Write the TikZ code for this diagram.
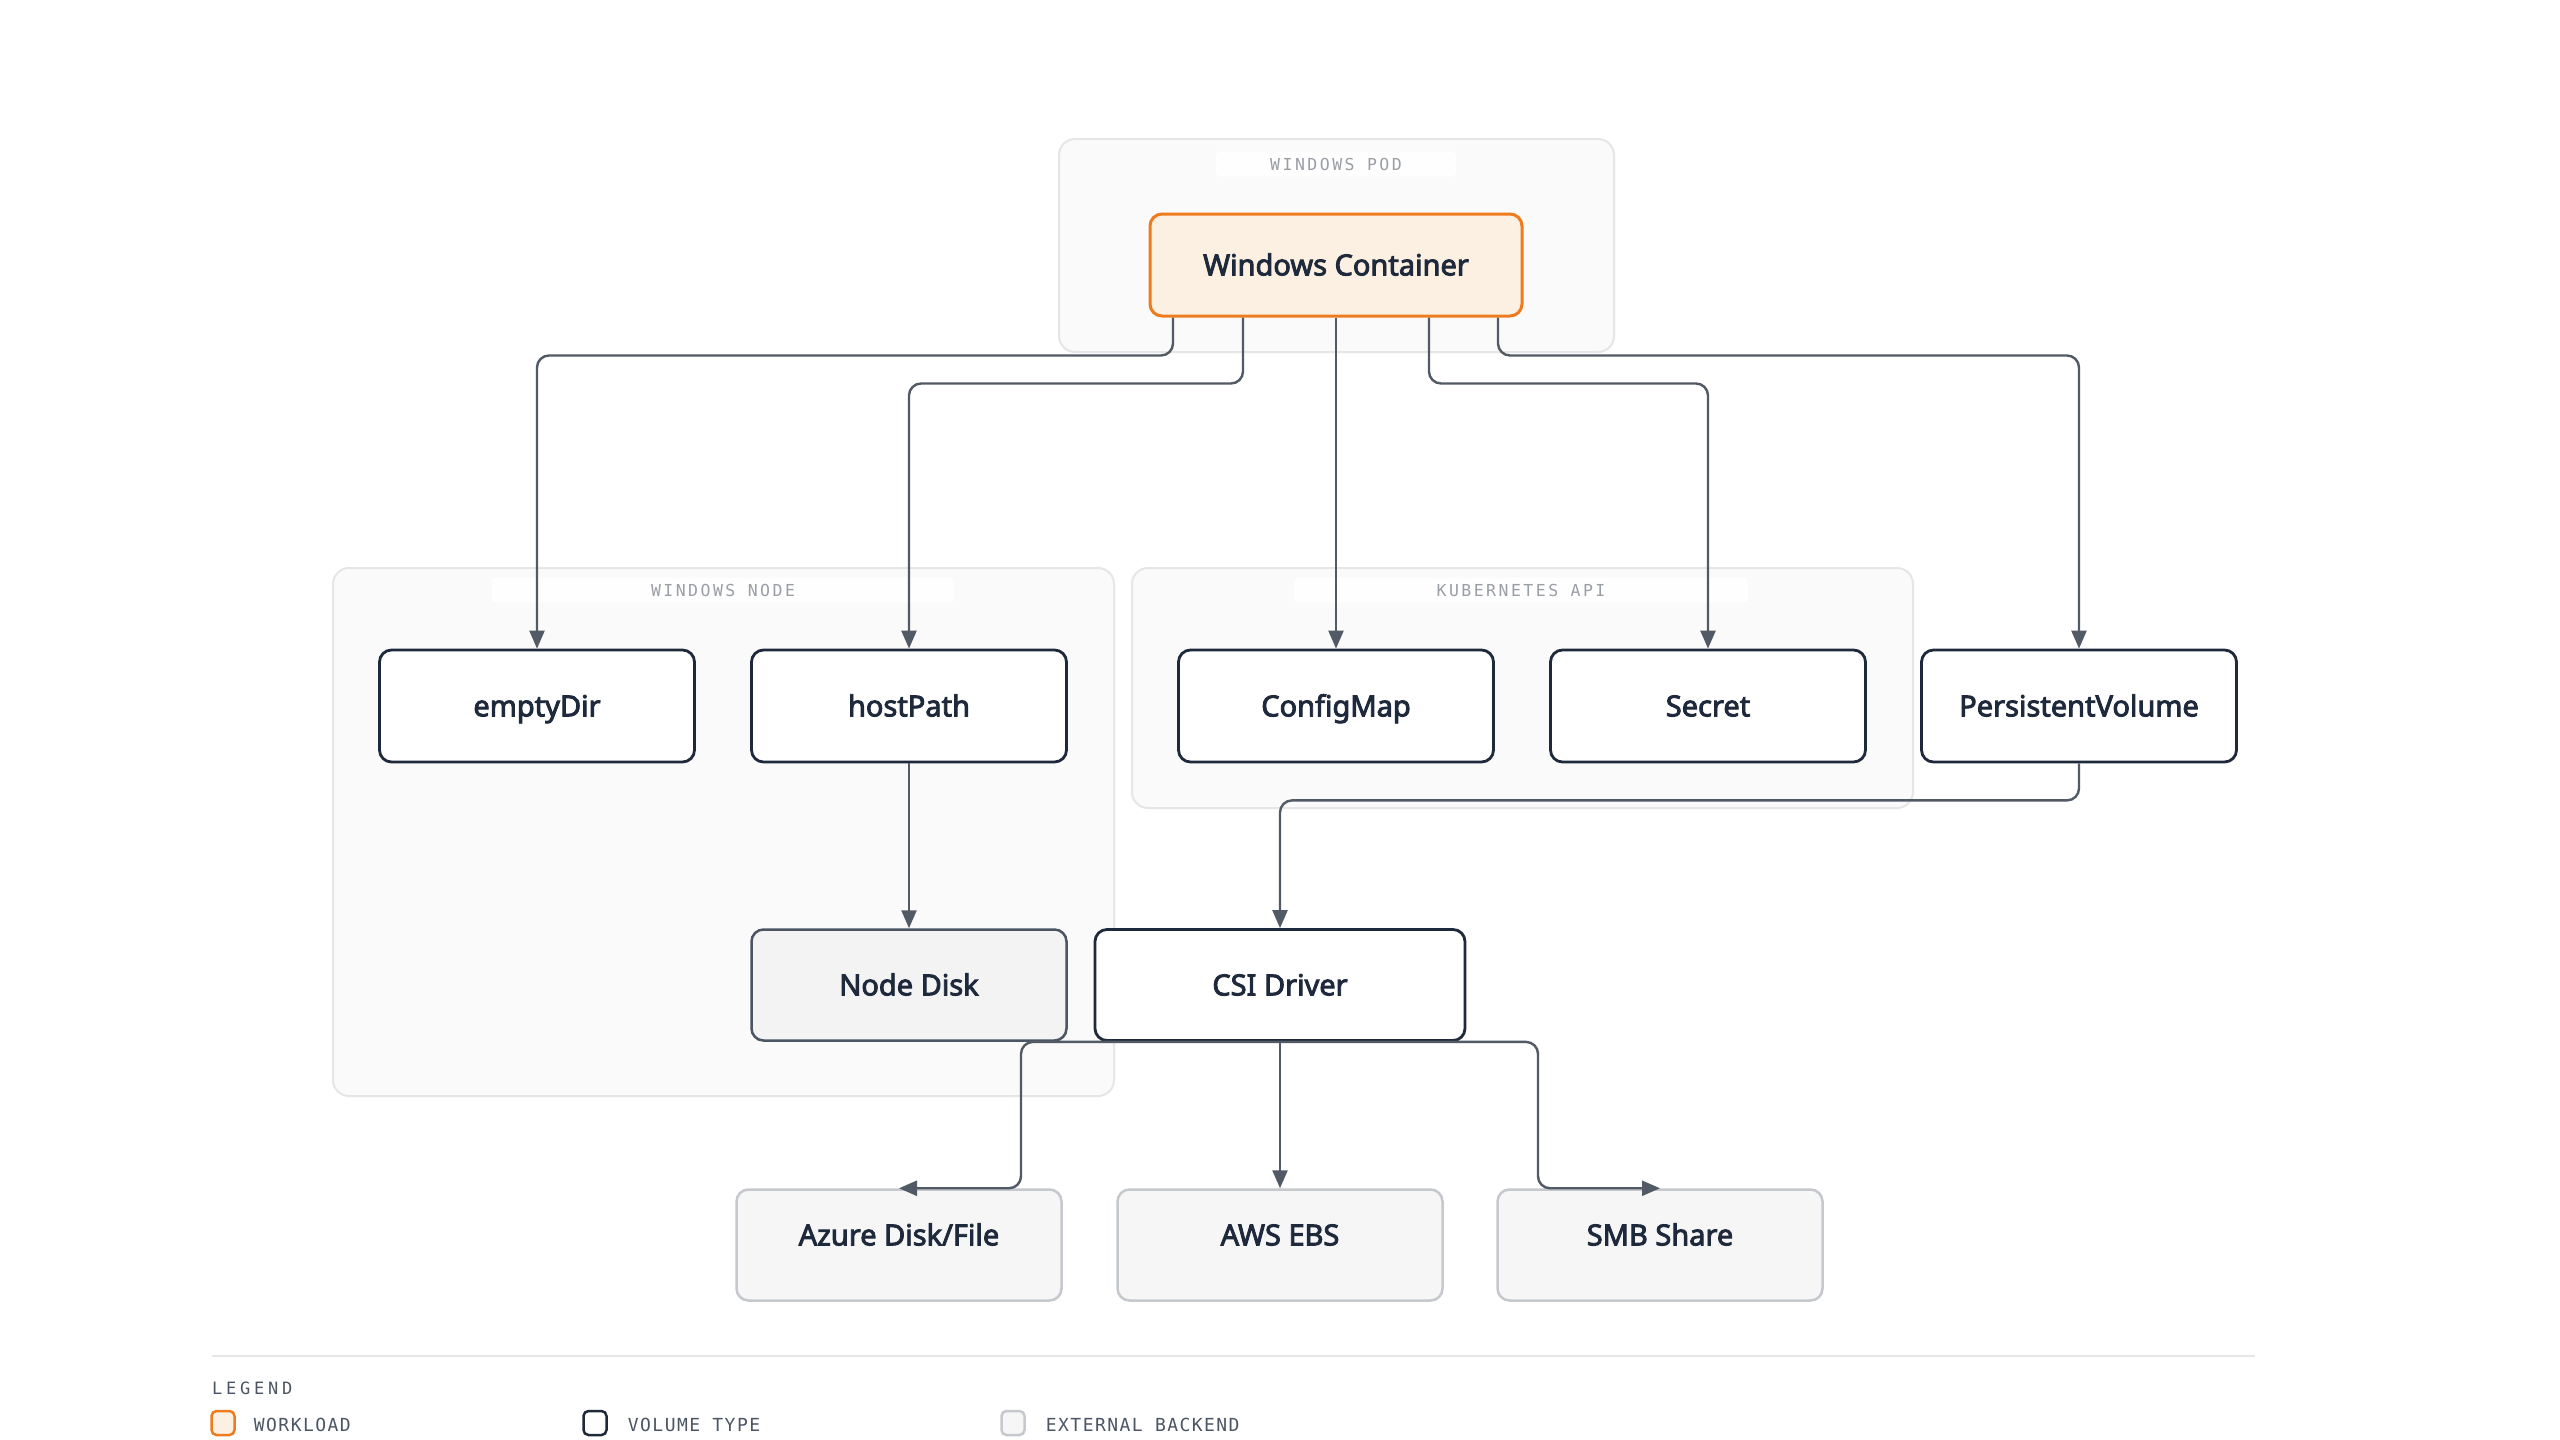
\documentclass[tikz,border=0pt]{standalone}
\usepackage{fontspec}
\setmainfont{Noto Sans}[BoldFont={Noto Sans}, BoldFeatures={FakeBold=3}]
\newfontfamily\grouplabelfont[LetterSpace=15]{DejaVu Sans Mono}
\newfontfamily\keyfont[LetterSpace=8]{DejaVu Sans Mono}
\newfontfamily\keytitlefont[LetterSpace=22]{DejaVu Sans Mono}
\usetikzlibrary{arrows.meta,positioning}
\definecolor{wlorange}{HTML}{EF7B1F}
\definecolor{wlcream}{HTML}{FBF0E1}
\definecolor{navy}{HTML}{1E293B}
\definecolor{linkgray}{HTML}{525A65}
\definecolor{diskgray}{HTML}{4B5563}
\definecolor{diskfill}{HTML}{F3F3F4}
\definecolor{extborder}{HTML}{C5C8CC}
\definecolor{extfill}{HTML}{F6F6F7}
\definecolor{groupfill}{HTML}{FAFAFA}
\definecolor{groupline}{HTML}{E6E6E6}
\definecolor{tagtext}{HTML}{9A9EA5}
\definecolor{keytext}{HTML}{4B5563}
\begin{document}
\begin{tikzpicture}[x=1pt,y=-1pt,
    box/.style={rounded corners=12pt, inner sep=0pt, text=navy,
      text height=20.7pt, text depth=0pt,
      font=\fontsize{29}{34}\selectfont\bfseries},
    workload/.style={box, draw=wlorange, fill=wlcream, line width=3pt,
      minimum width=372pt, minimum height=102pt},
    voltype/.style={box, draw=navy, fill=white, line width=2.8pt,
      minimum width=315pt, minimum height=112pt},
    hostdisk/.style={box, draw=diskgray, fill=diskfill, line width=2.5pt,
      minimum width=315pt, minimum height=111pt},
    backend/.style={box, draw=extborder, fill=extfill, line width=2.5pt,
      text depth=20pt, minimum width=325pt, minimum height=111pt},
    groupbox/.style={draw=groupline, fill=groupfill, line width=2pt, rounded corners=16pt},
    grouptag/.style={fill=white, fill opacity=0.8, text opacity=1, text=tagtext,
      rounded corners=4pt, inner sep=0pt, minimum height=25pt,
      font=\grouplabelfont\fontsize{16.5}{18}\selectfont},
    link/.style={draw=linkgray, line width=2.4pt, rounded corners=12pt,
      -{Triangle[length=18pt,width=15pt]}},
    swatch/.style={rounded corners=5pt, line width=2.5pt, inner sep=0pt,
      minimum width=23pt, minimum height=24pt},
    keylabel/.style={text=keytext, inner sep=0pt, yshift=-2pt,
      font=\keyfont\fontsize{18}{20}\selectfont}]
  \useasboundingbox (0,0) rectangle (2560,1440);
  \fill[white] (0,0) rectangle (2560,1440);

  % groups
  \draw[groupbox] (1059,139) rectangle (1614,352);
  \draw[groupbox] (333,568) rectangle (1114,1096);
  \draw[groupbox] (1132,568) rectangle (1913,808);
  \node[grouptag, minimum width=240pt] (podtag) at (1336,164) {WINDOWS POD};
  \node[grouptag, minimum width=463pt] (nodetag) at (723,590) {WINDOWS NODE};
  \node[grouptag, minimum width=454pt] (apitag) at (1521,590) {KUBERNETES API};

  % nodes
  \node[workload] (container) at (1336,265) {Windows Container};
  \node[voltype] (emptydir) at (537,706) {emptyDir};
  \node[voltype] (hostpath) at (909,706) {hostPath};
  \node[voltype] (configmap) at (1336,706) {ConfigMap};
  \node[voltype] (secret) at (1708,706) {Secret};
  \node[voltype] (pv) at (2079,706) {PersistentVolume};
  \node[hostdisk] (nodedisk) at (909,985) {Node Disk};
  \node[voltype, minimum width=370pt, minimum height=111pt] (csi) at (1280,985) {CSI Driver};
  \node[backend] (azure) at (899,1245) {Azure Disk/File};
  \node[backend] (awsebs) at (1280,1245) {AWS EBS};
  \node[backend] (smb) at (1660,1245) {SMB Share};

  % links
  \draw[link] ([xshift=-163pt]container.south) -- ++(0,38) -| (emptydir.north);
  \draw[link] ([xshift=-93pt]container.south) -- ++(0,66) -| (hostpath.north);
  \draw[link] (container.south) -- (configmap.north);
  \draw[link] ([xshift=93pt]container.south) -- ++(0,66) -| (secret.north);
  \draw[link] ([xshift=162pt]container.south) -- ++(0,38) -| (pv.north);
  \draw[link] (hostpath.south) -- (nodedisk.north);
  \draw[link] (pv.south) -- ++(0,37) -| (csi.north);
  \draw[link] (csi.south) -- ++(-259,0) |- (azure.north);
  \draw[link] (csi.south) -- (awsebs.north);
  \draw[link] (csi.south) -- ++(258,0) |- (smb.north);

  % legend
  \draw[groupline, line width=2pt] (212,1356) -- (2255,1356);
  \node[anchor=west, inner sep=0pt, text=keytext,
    font=\keytitlefont\fontsize{17}{19}\selectfont] (keytitle) at (212,1388) {LEGEND};
  \node[swatch, draw=wlorange, fill=wlcream] (keywl) at (223,1423) {};
  \node[keylabel, right=18pt of keywl] (keywltext) {WORKLOAD};
  \node[swatch, draw=navy, fill=white] (keyvol) at (595,1423) {};
  \node[keylabel, right=20pt of keyvol] (keyvoltext) {VOLUME TYPE};
  \node[swatch, draw=extborder, fill=extfill] (keyext) at (1013,1423) {};
  \node[keylabel, right=20pt of keyext] (keyexttext) {EXTERNAL BACKEND};
\end{tikzpicture}
\end{document}
